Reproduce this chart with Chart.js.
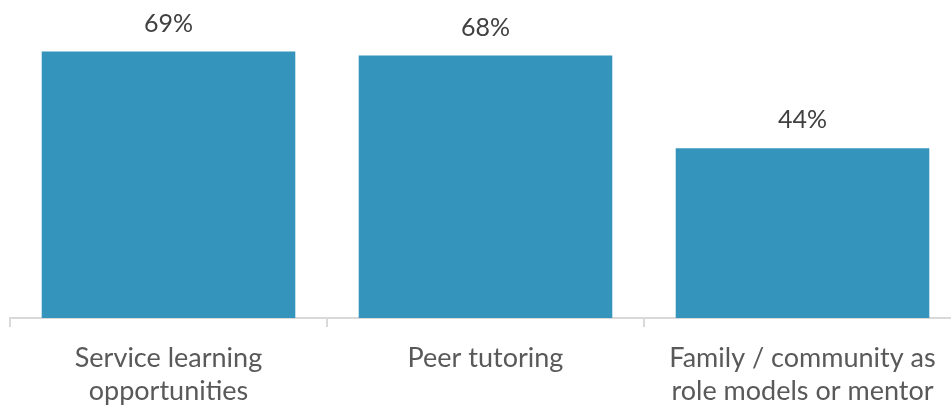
<!DOCTYPE html>
<html>
<head>
<meta charset="utf-8">
<script src="https://cdn.jsdelivr.net/npm/chart.js@4/dist/chart.umd.min.js"></script>
<style>
  html, body { margin: 0; padding: 0; background: #fff; overflow: hidden; width: 951px; height: 407px; }
  #wrap { position: absolute; left: 0; top: 0; width: 961px; height: 407px; overflow: hidden; }
</style>
</head>
<body>
<div id="wrap"><canvas id="c" width="961" height="423"></canvas></div>
<script>
const categories = [
  ["Service learning", "opportunities"],
  ["Peer tutoring"],
  ["Family / community as", "role models or mentor"]
];
const values = [69, 68, 44];
const valueLabels = ["69%", "68%", "44%"];

const valueLabelPlugin = {
  id: 'valueLabels',
  afterDatasetsDraw(chart) {
    const ctx = chart.ctx;
    const meta = chart.getDatasetMeta(0);
    ctx.save();
    ctx.font = '25px Lato';
    ctx.fillStyle = '#404040';
    ctx.textAlign = 'center';
    ctx.textBaseline = 'middle';
    meta.data.forEach((bar, i) => {
      ctx.fillText(valueLabels[i], bar.x, bar.y - 28);
    });
    ctx.restore();
  }
};

new Chart(document.getElementById('c'), {
  type: 'bar',
  data: {
    labels: categories,
    datasets: [{
      data: values,
      backgroundColor: '#3594BB',
      borderWidth: 0,
      barPercentage: 0.8,
      categoryPercentage: 1.0
    }]
  },
  options: {
    responsive: false,
    animation: false,
    layout: { padding: { left: 10, right: 0, top: 40, bottom: 0 } },
    plugins: { legend: { display: false }, tooltip: { enabled: false } },
    scales: {
      x: {
        border: { display: true, color: '#D9D9D9', width: 2 },
        grid: { display: true, drawOnChartArea: false, drawTicks: true, tickLength: 9, color: '#D9D9D9', lineWidth: 2 },
        ticks: { color: '#595959', font: { family: 'Lato', size: 27, lineHeight: 1.22 }, padding: 15, maxRotation: 0, autoSkip: false }
      },
      y: {
        display: false,
        min: 0,
        max: 72
      }
    }
  },
  plugins: [valueLabelPlugin]
});
</script>
</body>
</html>
